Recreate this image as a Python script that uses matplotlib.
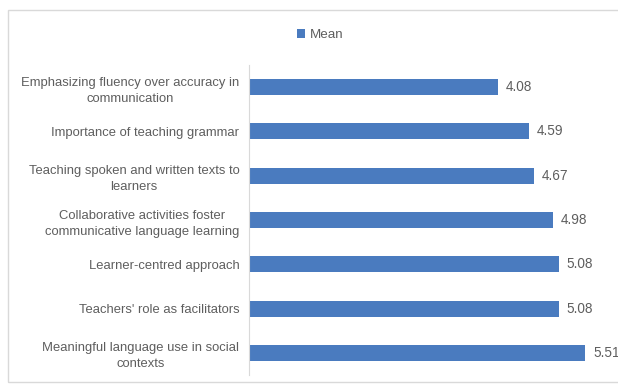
import numpy as np
import matplotlib.pyplot as plt
from matplotlib.patches import Rectangle

plt.rcParams['font.family'] = ['Liberation Sans', 'DejaVu Sans']

items = ['Emphasizing fluency over accuracy in\ncommunication',
         'Importance of teaching grammar',
         'Teaching spoken and written texts to\nlearners',
         'Collaborative activities foster\ncommunicative language learning',
         'Learner-centred approach',
         "Teachers' role as facilitators",
         'Meaningful language use in social\ncontexts']
means = [4.08, 4.59, 4.67, 4.98, 5.08, 5.08, 5.51]

bar_col = '#4a7bbf'
txt_col = '#5e5e5e'

fig = plt.figure(figsize=(6.18, 3.85), dpi=100)
fig.patch.set_facecolor('white')

# light frame round the chart area
fig.patches.append(Rectangle((8/618, 3/385), 1.2, 372/385, transform=fig.transFigure,
                             fill=False, edgecolor='#d9d9d9', linewidth=1.0))

ax = fig.add_axes([249/618, 10/385, 366/618, 310/385])
y = np.arange(len(items))
bars = ax.barh(y, means, height=0.36, color=bar_col, label='Mean')
ax.set_ylim(len(items) - 0.5, -0.5)
ax.set_xlim(0, 6)

ax.set_yticks(y)
ax.set_yticklabels(items, fontsize=9.4, color=txt_col, ha='right',
                   multialignment='center', linespacing=1.45)
ax.tick_params(axis='y', length=0, pad=7)
ax.set_xticks([])

for s in ['top', 'right', 'bottom']:
    ax.spines[s].set_visible(False)
ax.spines['left'].set_color('#d9d9d9')

for b, v in zip(bars, means):
    ax.text(v + 0.13, b.get_y() + b.get_height() / 2, '%.2f' % v,
            va='center', ha='left', fontsize=9.8, color=txt_col, clip_on=False)

fig.legend(handles=[bars], labels=['Mean'], loc='center', bbox_to_anchor=(320/618, 1 - 35/385),
           frameon=False, fontsize=9.6, labelcolor=txt_col, handlelength=0.6,
           handleheight=0.6, handletextpad=0.4)

fig.savefig('out.png', dpi=100)
